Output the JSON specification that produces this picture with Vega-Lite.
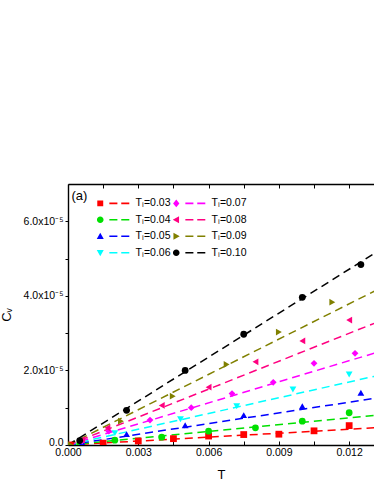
{
  "$schema": "https://vega.github.io/schema/vega-lite/v6.json",
  "width": 306,
  "height": 261,
  "padding": {"top": 183, "left": 0, "right": 0, "bottom": 5},
  "config": {
    "font": "Liberation Sans",
    "view": {"stroke": null},
    "axis": {"grid": false, "labelFlush": false, "domainColor": "black", "domainWidth": 1.4, "tickColor": "black", "tickWidth": 1, "labelColor": "black", "titleColor": "black", "labelFontSize": 10.5, "titleFontWeight": "normal", "titleFontSize": 13}
  },
  "datasets": {
    "pts": [
      {"s": "0.03", "T": 0.0001, "cv": 0},
      {"s": "0.03", "T": 0.0015, "cv": 5e-7},
      {"s": "0.03", "T": 0.003, "cv": 1.07e-6},
      {"s": "0.03", "T": 0.0045, "cv": 1.7e-6},
      {"s": "0.03", "T": 0.006, "cv": 2.4e-6},
      {"s": "0.03", "T": 0.0075, "cv": 2.8e-6},
      {"s": "0.03", "T": 0.009, "cv": 2.9e-6},
      {"s": "0.03", "T": 0.0105, "cv": 3.8e-6},
      {"s": "0.03", "T": 0.012, "cv": 5.2e-6},
      {"s": "0.04", "T": 0.0005, "cv": 3e-7},
      {"s": "0.04", "T": 0.002, "cv": 1.3e-6},
      {"s": "0.04", "T": 0.004, "cv": 2.1e-6},
      {"s": "0.04", "T": 0.006, "cv": 3.7e-6},
      {"s": "0.04", "T": 0.008, "cv": 4.6e-6},
      {"s": "0.04", "T": 0.01, "cv": 6.4e-6},
      {"s": "0.04", "T": 0.012, "cv": 8.65e-6},
      {"s": "0.05", "T": 0.0006, "cv": 6e-7},
      {"s": "0.05", "T": 0.0025, "cv": 2.9e-6},
      {"s": "0.05", "T": 0.005, "cv": 5.3e-6},
      {"s": "0.05", "T": 0.0075, "cv": 8.0e-6},
      {"s": "0.05", "T": 0.01, "cv": 1.04e-5},
      {"s": "0.05", "T": 0.0125, "cv": 1.40e-5},
      {"s": "0.06", "T": 0.0006, "cv": 9e-7},
      {"s": "0.06", "T": 0.002, "cv": 3.2e-6},
      {"s": "0.06", "T": 0.0048, "cv": 6.9e-6},
      {"s": "0.06", "T": 0.0072, "cv": 1.04e-5},
      {"s": "0.06", "T": 0.0096, "cv": 1.49e-5},
      {"s": "0.06", "T": 0.012, "cv": 1.89e-5},
      {"s": "0.07", "T": 0.0006, "cv": 1.1e-6},
      {"s": "0.07", "T": 0.00174, "cv": 3.7e-6},
      {"s": "0.07", "T": 0.0035, "cv": 6.7e-6},
      {"s": "0.07", "T": 0.00526, "cv": 1.0e-5},
      {"s": "0.07", "T": 0.007, "cv": 1.38e-5},
      {"s": "0.07", "T": 0.00876, "cv": 1.68e-5},
      {"s": "0.07", "T": 0.0105, "cv": 2.19e-5},
      {"s": "0.07", "T": 0.01225, "cv": 2.46e-5},
      {"s": "0.08", "T": 0.0006, "cv": 1.4e-6},
      {"s": "0.08", "T": 0.00168, "cv": 4.6e-6},
      {"s": "0.08", "T": 0.004, "cv": 1.06e-5},
      {"s": "0.08", "T": 0.006, "cv": 1.55e-5},
      {"s": "0.08", "T": 0.008, "cv": 2.23e-5},
      {"s": "0.08", "T": 0.01, "cv": 2.79e-5},
      {"s": "0.08", "T": 0.012, "cv": 3.35e-5},
      {"s": "0.09", "T": 0.0001, "cv": 1e-7},
      {"s": "0.09", "T": 0.00226, "cv": 6.4e-6},
      {"s": "0.09", "T": 0.00447, "cv": 1.31e-5},
      {"s": "0.09", "T": 0.00677, "cv": 2.16e-5},
      {"s": "0.09", "T": 0.009, "cv": 3.03e-5},
      {"s": "0.09", "T": 0.01128, "cv": 3.83e-5},
      {"s": "0.10", "T": 0.0005, "cv": 1.2e-6},
      {"s": "0.10", "T": 0.0025, "cv": 9.3e-6},
      {"s": "0.10", "T": 0.005, "cv": 2.0e-5},
      {"s": "0.10", "T": 0.0075, "cv": 2.97e-5},
      {"s": "0.10", "T": 0.01, "cv": 3.96e-5},
      {"s": "0.10", "T": 0.0125, "cv": 4.84e-5}
    ],
    "fits": [
      {"s": "0.03", "T": 0, "cv": 0}, {"s": "0.03", "T": 0.0135, "cv": 4.75e-6},
      {"s": "0.04", "T": 0, "cv": 0}, {"s": "0.04", "T": 0.0135, "cv": 8.17e-6},
      {"s": "0.05", "T": 0, "cv": 0}, {"s": "0.05", "T": 0.0135, "cv": 1.292e-5},
      {"s": "0.06", "T": 0, "cv": 0}, {"s": "0.06", "T": 0.0135, "cv": 1.902e-5},
      {"s": "0.07", "T": 0, "cv": 0}, {"s": "0.07", "T": 0.0135, "cv": 2.543e-5},
      {"s": "0.08", "T": 0, "cv": 0}, {"s": "0.08", "T": 0.0135, "cv": 3.37e-5},
      {"s": "0.09", "T": 0, "cv": 0}, {"s": "0.09", "T": 0.0135, "cv": 4.259e-5},
      {"s": "0.10", "T": 0, "cv": 0}, {"s": "0.10", "T": 0.0135, "cv": 5.303e-5}
    ]
  },
  "layer": [
    {
      "data": {"name": "fits"},
      "mark": {"type": "line", "strokeDash": [8, 5], "strokeWidth": 1.5, "clip": true},
      "encoding": {
        "x": {"field": "T", "type": "quantitative", "scale": {"domain": [0, 0.01306], "nice": false},
          "axis": {"orient": "top", "labels": false, "title": null, "values": [0, 0.0015, 0.003, 0.0045, 0.006, 0.0075, 0.009, 0.0105, 0.012], "tickSize": -4}},
        "y": {"field": "cv", "type": "quantitative", "scale": {"domain": [0, 7e-5], "nice": false}, "axis": null},
        "color": {"field": "s", "type": "nominal",
          "scale": {"domain": ["0.03", "0.04", "0.05", "0.06", "0.07", "0.08", "0.09", "0.10"],
                    "range": ["#ff0000", "#00e000", "#0000ff", "#00ffff", "#ff00ff", "#ff0080", "#808000", "#000000"]},
          "legend": null}
      }
    },
    {
      "data": {"name": "pts"},
      "mark": {"type": "point", "filled": true, "size": 46, "opacity": 1, "clip": true},
      "encoding": {
        "x": {"field": "T", "type": "quantitative",
          "axis": {"orient": "bottom", "title": "T", "values": [0, 0.0015, 0.003, 0.0045, 0.006, 0.0075, 0.009, 0.0105, 0.012],
            "labelExpr": "round(datum.value/0.0015) % 2 == 0 ? format(datum.value, '.3f') : ''",
            "tickSize": -4, "labelPadding": 6, "titlePadding": 11}},
        "y": {"field": "cv", "type": "quantitative",
          "axis": {"orient": "left", "title": "Cᵥ", "values": [0, 1e-5, 2e-5, 3e-5, 4e-5, 5e-5, 6e-5],
            "labelExpr": "datum.value == 0 ? '0.0' : (round(datum.value*1e5) % 2 == 0 ? format(datum.value*1e5, '.1f') + 'x10⁻⁵' : '')",
            "labelOffset": {"condition": {"test": "datum.value == 0", "value": -3}, "value": 0},
            "tickSize": 3, "labelPadding": 2, "titlePadding": 10}},
        "color": {"field": "s", "type": "nominal",
          "scale": {"domain": ["0.03", "0.04", "0.05", "0.06", "0.07", "0.08", "0.09", "0.10"],
                    "range": ["#ff0000", "#00e000", "#0000ff", "#00ffff", "#ff00ff", "#ff0080", "#808000", "#000000"]},
          "legend": null},
        "shape": {"field": "s", "type": "nominal",
          "scale": {"domain": ["0.03", "0.04", "0.05", "0.06", "0.07", "0.08", "0.09", "0.10"],
                    "range": ["square", "circle", "triangle-up", "triangle-down", "diamond", "triangle-left", "triangle-right", "circle"]},
          "legend": null}
      }
    },
    {
      "data": {"name": "pts"},
      "transform": [{"filter": "datum.T < 0"}],
      "mark": {"type": "point", "filled": true, "opacity": 1},
      "encoding": {
        "x": {"field": "T", "type": "quantitative", "axis": null},
        "y": {"field": "cv", "type": "quantitative", "axis": null},
        "color": {"field": "s", "type": "nominal",
          "scale": {"domain": ["0.03", "0.04", "0.05", "0.06", "0.07", "0.08", "0.09", "0.10"],
                    "range": ["#ff0000", "#00e000", "#0000ff", "#00ffff", "#ff00ff", "#ff0080", "#808000", "#000000"]},
          "legend": {"orient": "none", "legendX": 27, "legendY": 14, "columns": 2, "title": null,
            "labelExpr": "'Tₗ=' + datum.label", "symbolSize": 49, "labelOffset": 30, "labelFontSize": 10.5,
            "rowPadding": 5.5, "columnPadding": -2, "symbolStrokeWidth": 0, "symbolOpacity": 1, "labelColor": "black"}},
        "shape": {"field": "s", "type": "nominal",
          "scale": {"domain": ["0.03", "0.04", "0.05", "0.06", "0.07", "0.08", "0.09", "0.10"],
                    "range": [
                      "M-0.85,-0.85H0.85V0.85H-0.85Z M2.6,-0.22H4.9V0.22H2.6Z M6,-0.22H8.3V0.22H6Z",
                      "M-0.95,0A0.95,0.95 0 1,0 0.95,0A0.95,0.95 0 1,0 -0.95,0Z M2.6,-0.22H4.9V0.22H2.6Z M6,-0.22H8.3V0.22H6Z",
                      "M0,-1L1,0.8H-1Z M2.6,-0.22H4.9V0.22H2.6Z M6,-0.22H8.3V0.22H6Z",
                      "M0,1L1,-0.8H-1Z M2.6,-0.22H4.9V0.22H2.6Z M6,-0.22H8.3V0.22H6Z",
                      "M0,-1.1L0.9,0L0,1.1L-0.9,0Z M2.6,-0.22H4.9V0.22H2.6Z M6,-0.22H8.3V0.22H6Z",
                      "M-1,0L0.8,-1V1Z M2.6,-0.22H4.9V0.22H2.6Z M6,-0.22H8.3V0.22H6Z",
                      "M1,0L-0.8,-1V1Z M2.6,-0.22H4.9V0.22H2.6Z M6,-0.22H8.3V0.22H6Z",
                      "M-0.95,0A0.95,0.95 0 1,0 0.95,0A0.95,0.95 0 1,0 -0.95,0Z M2.6,-0.22H4.9V0.22H2.6Z M6,-0.22H8.3V0.22H6Z"
                    ]}}
      }
    },
    {
      "data": {"values": [{"t": "(a)"}]},
      "mark": {"type": "text", "align": "left", "baseline": "middle", "fontSize": 13, "color": "black"},
      "encoding": {
        "x": {"datum": 0.00015, "type": "quantitative", "axis": null},
        "y": {"datum": 6.67e-5, "type": "quantitative", "axis": null},
        "text": {"field": "t"}
      }
    }
  ],
  "resolve": {"scale": {"color": "independent", "shape": "independent"}, "axis": {"x": "independent", "y": "independent"}}
}
